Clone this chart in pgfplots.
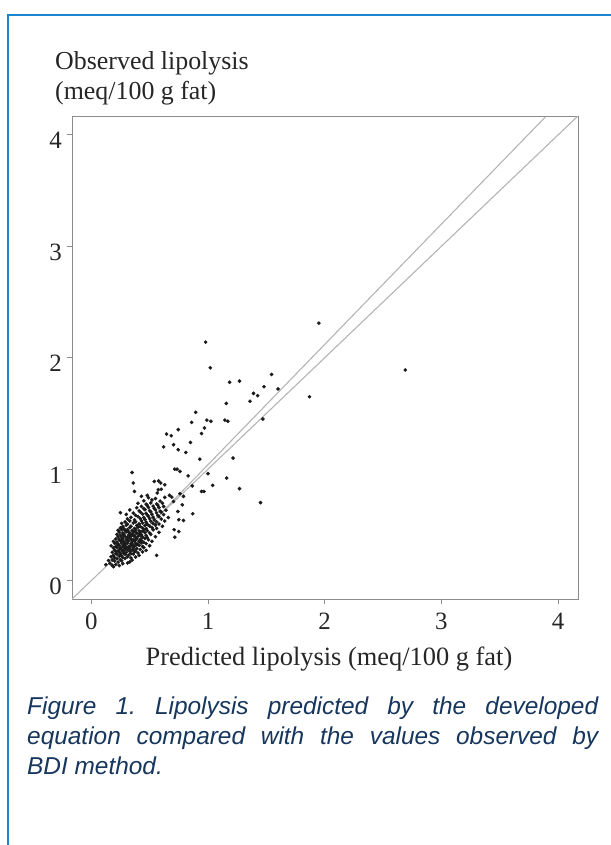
\documentclass[border=0pt]{standalone}
\usepackage{fontspec}
\setmainfont{Liberation Serif}
\newfontfamily\capfont{Liberation Sans}
\usepackage{pgfplots}
\pgfplotsset{compat=1.18}
\definecolor{frameblue}{HTML}{1A86CF}
\definecolor{capblue}{HTML}{17365D}
\definecolor{axgray}{HTML}{8C8C8C}
\definecolor{refgray}{HTML}{B4B4B4}
\definecolor{dotink}{HTML}{1A1A1A}

\begin{document}
\frenchspacing
\begin{tikzpicture}
\useasboundingbox (0,0) rectangle (611bp,-845bp);
\draw[frameblue, line width=2.5bp] (8bp,-845bp) -- (8bp,-15bp) -- (611bp,-15bp);

\begin{axis}[
  at={(72bp,-599bp)}, anchor=south west,
  scale only axis, width=506bp, height=482bp,
  xmin=-0.165, xmax=4.17, ymin=-0.165, ymax=4.16,
  xtick={0,1,2,3,4}, ytick={0,1,2,3,4},
  axis line style={axgray, line width=1bp},
  tick style={axgray, line width=0.9bp},
  tick align=outside, major tick length=5bp, tick pos=left,
  /pgf/number format/assume math mode=true,
  ticklabel style={font=\fontsize{25}{30}\selectfont, text=black!85, inner sep=0pt},
  xticklabel style={anchor=base, yshift=-25bp},
  yticklabel style={anchor=base east, xshift=-5bp, yshift=-14bp},
  xlabel={Predicted lipolysis (meq/100 g fat)},
  xlabel style={at={(axis description cs:0.5,0)}, anchor=base, inner sep=0pt,
    yshift=-66bp, xshift=4bp, font=\fontsize{26.5}{30}\selectfont, text=black!85},
  ylabel={Observed lipolysis\\(meq/100 g fat)},
  ylabel style={rotate=-90, at={(axis description cs:0,1)}, anchor=north west,
    align=left, inner sep=0pt, xshift=-17bp, yshift=66bp,
    font=\fontsize{26}{30}\selectfont, text=black!85},
]
% line of equality and fitted line
\addplot[refgray, line width=1.1bp, no marks] coordinates {(-0.165,-0.165) (4.3,4.3)};
\addplot[refgray, line width=1.1bp, no marks] coordinates {(0.5,0.5) (3.89,4.16)};

% observed vs predicted
\addplot[only marks, mark=*, mark size=1.65bp, color=dotink] coordinates {
  (1.95,2.31) (2.69,1.89) (0.98,2.14) (1.02,1.91) (1.545,1.85) (1.185,1.78)
  (1.27,1.79) (1.48,1.74) (1.60,1.72) (1.39,1.68) (1.425,1.66) (1.36,1.61)
  (1.87,1.65) (1.157,1.59) (0.99,1.44) (1.025,1.43) (1.145,1.44) (1.17,1.43)
  (0.97,1.37) (0.945,1.32) (1.47,1.45) (0.93,1.09) (1.215,1.10) (1.0,0.96)
  (1.16,0.92) (1.04,0.855) (1.27,0.825) (1.45,0.70) (0.945,0.80) (0.965,0.80)
  (0.895,1.51) (0.86,1.42) (0.645,1.315) (0.685,1.30) (0.745,1.355) (0.85,1.24)
  (0.62,1.20) (0.705,1.22) (0.745,1.175) (0.81,1.15) (0.715,1.00) (0.735,1.00)
  (0.76,0.98) (0.83,0.94) (0.35,0.97) (0.36,0.876) (0.54,0.89) (0.577,0.894)
  (0.595,0.876) (0.63,0.86) (0.574,0.816) (0.60,0.82) (0.565,0.786) (0.37,0.80)
  (0.43,0.756) (0.48,0.765) (0.67,0.765) (0.69,0.75) (0.76,0.78) (0.79,0.756)
  (0.865,0.85) (0.705,0.71) (0.78,0.68) (0.87,0.60) (0.742,0.62) (0.75,0.547)
  (0.79,0.54) (0.71,0.457) (0.75,0.44) (0.716,0.39) (0.56,0.227) (0.25,0.61)
  (0.125,0.143) (0.148,0.18) (0.18,0.137)
  (0.19,0.125) (0.24,0.135)
  (0.16,0.155) (0.21,0.145) (0.27,0.152) (0.31,0.158)
  (0.20,0.175) (0.23,0.166) (0.26,0.178) (0.33,0.168)
  (0.18,0.186) (0.22,0.196) (0.25,0.188) (0.29,0.199) (0.35,0.184)
  (0.17,0.214) (0.20,0.205) (0.24,0.218) (0.27,0.207) (0.31,0.215) (0.34,0.204) (0.38,0.212)
  (0.19,0.226) (0.22,0.237) (0.26,0.224) (0.29,0.235) (0.32,0.228) (0.36,0.238) (0.41,0.226)
  (0.21,0.243) (0.28,0.246) (0.34,0.242) (0.25,0.241)
  (0.18,0.254) (0.21,0.262) (0.24,0.255) (0.27,0.259) (0.30,0.252) (0.33,0.261) (0.37,0.256) (0.40,0.248) (0.44,0.258)
  (0.20,0.275) (0.23,0.266) (0.26,0.278) (0.28,0.268) (0.31,0.276) (0.35,0.272) (0.38,0.266) (0.42,0.279) (0.47,0.271)
  (0.245,0.284) (0.295,0.286) (0.325,0.283) (0.36,0.282)
  (0.19,0.294) (0.22,0.298) (0.25,0.292) (0.28,0.296) (0.30,0.297) (0.33,0.291) (0.36,0.299) (0.39,0.288) (0.45,0.296)
  (0.17,0.312) (0.21,0.306) (0.24,0.316) (0.27,0.308) (0.29,0.318) (0.32,0.305) (0.34,0.314) (0.37,0.309) (0.41,0.317) (0.44,0.306) (0.50,0.313)
  (0.225,0.322) (0.28,0.325) (0.355,0.324) (0.39,0.321)
  (0.20,0.334) (0.23,0.328) (0.26,0.338) (0.29,0.331) (0.31,0.337) (0.34,0.329) (0.38,0.336) (0.40,0.327) (0.43,0.339) (0.47,0.332)
  (0.19,0.352) (0.22,0.346) (0.25,0.357) (0.28,0.349) (0.32,0.355) (0.35,0.347) (0.37,0.358) (0.41,0.351) (0.45,0.344) (0.52,0.353)
  (0.265,0.364) (0.305,0.362) (0.345,0.366) (0.38,0.363) (0.43,0.361)
  (0.21,0.374) (0.24,0.368) (0.27,0.377) (0.30,0.371) (0.33,0.378) (0.36,0.369) (0.39,0.375) (0.42,0.372) (0.46,0.379) (0.49,0.367)
  (0.23,0.392) (0.26,0.386) (0.29,0.397) (0.31,0.389) (0.34,0.395) (0.38,0.386) (0.40,0.398) (0.44,0.391) (0.48,0.387) (0.55,0.394)
  (0.275,0.404) (0.33,0.406) (0.365,0.402) (0.42,0.405)
  (0.22,0.414) (0.25,0.408) (0.28,0.418) (0.32,0.411) (0.35,0.416) (0.37,0.407) (0.41,0.419) (0.43,0.412) (0.47,0.406) (0.51,0.415)
  (0.24,0.434) (0.27,0.427) (0.30,0.438) (0.33,0.429) (0.36,0.436) (0.39,0.426) (0.42,0.437) (0.46,0.431) (0.50,0.428) (0.58,0.433)
  (0.315,0.444) (0.375,0.443) (0.44,0.446)
  (0.23,0.452) (0.26,0.457) (0.29,0.448) (0.31,0.458) (0.35,0.451) (0.38,0.459) (0.41,0.447) (0.45,0.455) (0.48,0.449) (0.53,0.456)
  (0.25,0.474) (0.28,0.466) (0.33,0.476) (0.37,0.468) (0.40,0.478) (0.44,0.471) (0.47,0.465) (0.52,0.477) (0.56,0.469)
  (0.27,0.486) (0.30,0.497) (0.34,0.488) (0.39,0.495) (0.42,0.485) (0.46,0.494) (0.50,0.489) (0.55,0.498) (0.61,0.487)
  (0.26,0.514) (0.31,0.506) (0.36,0.517) (0.41,0.508) (0.44,0.516) (0.48,0.505) (0.53,0.513) (0.58,0.508)
  (0.29,0.526) (0.33,0.536) (0.38,0.528) (0.43,0.537) (0.47,0.524) (0.51,0.533) (0.56,0.527) (0.63,0.535)
  (0.31,0.554) (0.37,0.546) (0.42,0.557) (0.46,0.548) (0.50,0.556) (0.54,0.545) (0.60,0.552)
  (0.34,0.568) (0.40,0.575) (0.45,0.566) (0.49,0.577) (0.53,0.569) (0.58,0.574) (0.66,0.566)
  (0.30,0.594) (0.38,0.586) (0.44,0.597) (0.48,0.588) (0.52,0.595) (0.57,0.584) (0.62,0.592)
  (0.36,0.606) (0.42,0.615) (0.47,0.604) (0.51,0.617) (0.56,0.608) (0.60,0.614)
  (0.33,0.634) (0.41,0.626) (0.46,0.637) (0.50,0.628) (0.55,0.635) (0.59,0.624) (0.64,0.632)
  (0.39,0.654) (0.45,0.646) (0.49,0.657) (0.54,0.648) (0.58,0.655)
  (0.43,0.666) (0.48,0.675) (0.53,0.668) (0.57,0.677) (0.62,0.665)
  (0.40,0.694) (0.47,0.686) (0.51,0.697) (0.56,0.688) (0.61,0.695)
  (0.45,0.716) (0.52,0.724) (0.59,0.713)
  (0.49,0.744) (0.55,0.736) (0.63,0.747)
};
\end{axis}

\node[anchor=north west, inner sep=0pt, text width=571bp, align=justify,
      font=\capfont\itshape\fontsize{24.5}{30}\selectfont, text=capblue]
  at (27bp,-697bp)
  {Figure 1. Lipolysis predicted by the developed equation compared with the values observed by\linebreak BDI method.};
\end{tikzpicture}
\end{document}
